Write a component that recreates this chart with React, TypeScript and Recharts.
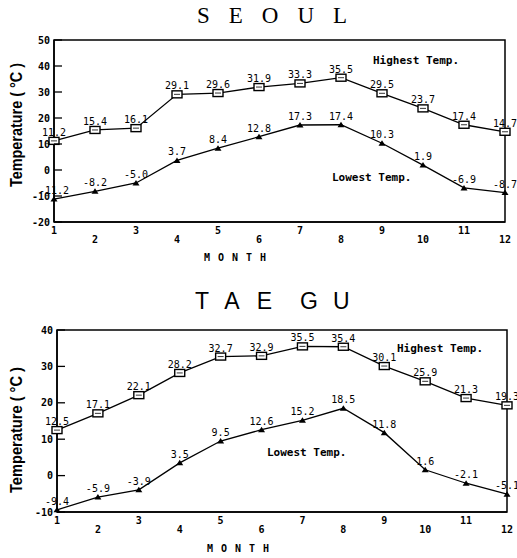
import { LineChart, Line, XAxis, YAxis, ReferenceArea, LabelList } from "recharts";

const months = [1, 2, 3, 4, 5, 6, 7, 8, 9, 10, 11, 12];
const seoulHighest = [11.2, 15.4, 16.1, 29.1, 29.6, 31.9, 33.3, 35.5, 29.5, 23.7, 17.4, 14.7];
const seoulLowest = [-11.2, -8.2, -5.0, 3.7, 8.4, 12.8, 17.3, 17.4, 10.3, 1.9, -6.9, -8.7];
const taeguHighest = [12.5, 17.1, 22.1, 28.2, 32.7, 32.9, 35.5, 35.4, 30.1, 25.9, 21.3, 19.3];
const taeguLowest = [-9.4, -5.9, -3.9, 3.5, 9.5, 12.6, 15.2, 18.5, 11.8, 1.6, -2.1, -5.1];
const seoulTicks = [-20, -10, 0, 10, 20, 30, 40, 50];
const taeguTicks = [-10, 0, 10, 20, 30, 40];

const MONO = "'DejaVu Sans Mono', monospace";

function buildRows(high: number[], low: number[]) {
  return months.map((m, i) => ({ month: m, high: high[i], low: low[i] }));
}

function SquareDot(props: any) {
  const { cx, cy, index } = props;
  if (cx == null || cy == null) return null;
  return (
    <g key={`sq-${index}`}>
      <rect x={cx - 5} y={cy - 3.5} width={10} height={7} fill="#fff" stroke="#000" strokeWidth={1.4} />
      <line x1={cx - 3} x2={cx + 3} y1={cy} y2={cy} stroke="#000" strokeWidth={0.8} />
    </g>
  );
}

function TriangleDot(props: any) {
  const { cx, cy, index } = props;
  if (cx == null || cy == null) return null;
  return (
    <polygon
      key={`tri-${index}`}
      points={`${cx - 3.5},${cy + 2.5} ${cx + 3.5},${cy + 2.5} ${cx},${cy - 3}`}
      fill="#000"
    />
  );
}

function ValueLabel(props: any) {
  const { x, y, value } = props;
  if (x == null || y == null) return null;
  return (
    <text x={x} y={y - 5} textAnchor="middle" fontFamily={MONO} fontSize={10} fill="#000">
      {Number(value).toFixed(1)}
    </text>
  );
}

function MonthTick(props: any) {
  const { x, y, payload } = props;
  const odd = payload.value % 2 === 1;
  return (
    <text x={x} y={y + (odd ? 12 : 21)} textAnchor="middle" fontFamily={MONO} fontWeight="bold" fontSize={10} fill="#000">
      {payload.value}
    </text>
  );
}

function TempTick(props: any) {
  const { x, y, payload } = props;
  return (
    <g>
      <line x1={x} x2={x + 8} y1={y} y2={y} stroke="#000" strokeWidth={1.3} />
      <text x={x - 4} y={y + 3.5} textAnchor="end" fontFamily={MONO} fontWeight="bold" fontSize={10} fill="#000">
        {payload.value}
      </text>
    </g>
  );
}

interface PanelProps {
  rows: { month: number; high: number; low: number }[];
  domain: [number, number];
  ticks: number[];
  margin: { top: number; right: number; bottom: number; left: number };
  yWidth: number;
}

function Panel({ rows, domain, ticks, margin, yWidth }: PanelProps) {
  return (
    <LineChart width={517} height={279} data={rows} margin={margin}>
      <XAxis
        dataKey="month"
        type="number"
        domain={[1, 12]}
        ticks={months}
        interval={0}
        height={30}
        tickSize={0}
        tickMargin={0}
        tick={<MonthTick />}
        axisLine={{ stroke: "#000", strokeWidth: 1.5 }}
      />
      <YAxis
        type="number"
        domain={domain}
        ticks={ticks}
        interval={0}
        width={yWidth}
        tickSize={0}
        tickMargin={0}
        tick={<TempTick />}
        axisLine={{ stroke: "#000", strokeWidth: 1.5 }}
      />
      <ReferenceArea x1={1} x2={12} y1={domain[0]} y2={domain[1]} fill="none" stroke="#000" strokeWidth={1.5} />
      <Line dataKey="high" stroke="#000" strokeWidth={1.3} dot={<SquareDot />} isAnimationActive={false}>
        <LabelList dataKey="high" content={<ValueLabel />} />
      </Line>
      <Line dataKey="low" stroke="#000" strokeWidth={1.3} dot={<TriangleDot />} isAnimationActive={false}>
        <LabelList dataKey="low" content={<ValueLabel />} />
      </Line>
    </LineChart>
  );
}

const annot = { fontFamily: MONO, fontWeight: "bold" as const, fontSize: 11, fill: "#000" };

export default function App() {
  return (
    <div style={{ position: "absolute", left: 0, top: 0, width: 517, height: 558, background: "#fff" }}>
      <div style={{ position: "absolute", left: 0, top: 0 }}>
        <Panel
          rows={buildRows(seoulHighest, seoulLowest)}
          domain={[-20, 50]}
          ticks={seoulTicks}
          margin={{ top: 40, right: 12, bottom: 27, left: 0 }}
          yWidth={54}
        />
      </div>
      <div style={{ position: "absolute", left: 0, top: 279 }}>
        <Panel
          rows={buildRows(taeguHighest, taeguLowest)}
          domain={[-10, 40]}
          ticks={taeguTicks}
          margin={{ top: 51, right: 10, bottom: 16, left: 0 }}
          yWidth={57}
        />
      </div>
      <svg width={517} height={558} style={{ position: "absolute", left: 0, top: 0, pointerEvents: "none" }}>
        <text x={197} y={23} fontFamily="'Liberation Serif', serif" fontSize={23} letterSpacing={19} fill="#000">
          SEOUL
        </text>
        <text x={195} y={309} fontFamily="'Liberation Sans', sans-serif" fontSize={23} letterSpacing={17} fill="#000">
          TAE
        </text>
        <text x={300} y={309} fontFamily="'Liberation Sans', sans-serif" fontSize={23} letterSpacing={15} fill="#000">
          GU
        </text>

        <text
          x={16}
          y={125}
          transform="rotate(-90 16 125)"
          textAnchor="middle"
          dominantBaseline="central"
          fontFamily="'Liberation Sans', sans-serif"
          fontWeight="bold"
          fontSize={16}
          textLength={124}
          lengthAdjust="spacingAndGlyphs"
        >
          Temperature ( °C )
        </text>
        <text
          x={16}
          y={430}
          transform="rotate(-90 16 430)"
          textAnchor="middle"
          dominantBaseline="central"
          fontFamily="'Liberation Sans', sans-serif"
          fontWeight="bold"
          fontSize={16}
          textLength={126}
          lengthAdjust="spacingAndGlyphs"
        >
          Temperature ( °C )
        </text>

        <text x={204} y={261} fontFamily={MONO} fontWeight="bold" fontSize={10} letterSpacing={8}>
          MONTH
        </text>
        <text x={207} y={552} fontFamily={MONO} fontWeight="bold" fontSize={10} letterSpacing={8}>
          MONTH
        </text>

        <text x={373} y={64} {...annot}>Highest Temp.</text>
        <text x={332} y={181} {...annot}>Lowest Temp.</text>
        <text x={397} y={352} {...annot}>Highest Temp.</text>
        <text x={267} y={456} {...annot}>Lowest Temp.</text>
      </svg>
    </div>
  );
}
